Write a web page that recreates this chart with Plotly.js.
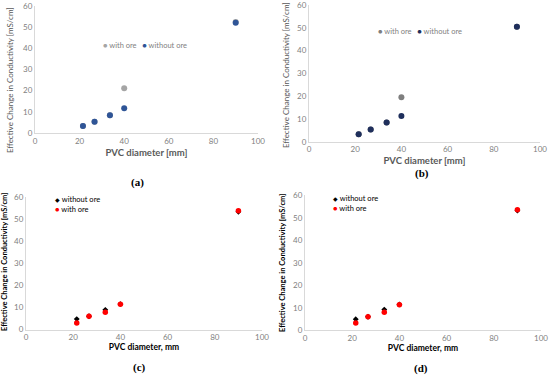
<!DOCTYPE html>
<html><head><meta charset="utf-8">
<script src="https://cdn.plot.ly/plotly-3.0.1.min.js"></script>
<style>html,body{margin:0;padding:0;background:#fff;overflow:hidden}#chart{width:550px;height:375px}</style>
</head><body><div id="chart"></div>
<script>
// PVC diameters (mm)
const diameters = [21.5, 26.7, 33.6, 40, 90];
// Panel (a)
const aWithOre    = [3.3, 5.3, 8.4, 21.1, 52.4];
const aWithoutOre = [3.3, 5.3, 8.4, 11.7, 52.1];
// Panel (b)
const bWithOre    = [3.3, 5.4, 8.4, 19.5, 50.4];
const bWithoutOre = [3.3, 5.4, 8.4, 11.3, 50.4];
// Panel (c)
const cWithoutOre = [4.7, 6.0, 8.9, 11.5, 53.3];
const cWithOre    = [3.0, 6.0, 7.8, 11.4, 53.8];
// Panel (d)
const dWithoutOre = [4.9, 6.0, 9.2, 11.5, 53.2];
const dWithOre    = [3.2, 6.0, 8.0, 11.4, 53.6];
const xTickVals = [0, 20, 40, 60, 80, 100];
const yTickVals = [0, 10, 20, 30, 40, 50, 60];

const W = 550, H = 375;
const px = v => v / W;
const py = v => 1 - v / H;

const FONT = 'Lato, "Open Sans", sans-serif';
function tr(x, y, xa, ya, color, symbol, size, name) {
  return {x: x, y: y, xaxis: xa, yaxis: ya, type: 'scatter', mode: 'markers', name: name,
    marker: {color: color, size: size, symbol: symbol}, showlegend: false, hoverinfo: 'x+y'};
}
const data = [
  tr(diameters, aWithOre, 'x', 'y', '#A5A5A5', 'circle', 6, 'with ore'),
  tr(diameters, aWithoutOre, 'x', 'y', '#2F5597', 'circle', 6, 'without ore'),
  tr(diameters, bWithOre, 'x2', 'y2', '#7F7F7F', 'circle', 6, 'with ore'),
  tr(diameters, bWithoutOre, 'x2', 'y2', '#1F2F5C', 'circle', 6, 'without ore'),
  tr(diameters, cWithoutOre, 'x3', 'y3', '#000000', 'diamond', 4.5, 'without ore'),
  tr(diameters, cWithOre, 'x3', 'y3', '#FF0000', 'circle', 5.5, 'with ore'),
  tr(diameters, dWithoutOre, 'x4', 'y4', '#000000', 'diamond', 4.5, 'without ore'),
  tr(diameters, dWithOre, 'x4', 'y4', '#FF0000', 'circle', 5.5, 'with ore')
];

function xaxis(dom, anchor, title, bold) {
  return {domain: dom, anchor: anchor, range: [0, 100], tickvals: xTickVals,
    showgrid: false, zeroline: false, showline: true, linecolor: '#D9D9D9', linewidth: 1,
    ticks: '', ticklabeloverflow: 'allow', tickfont: {family: FONT, size: 8, color: '#7F7F7F'},
    title: {text: title, standoff: bold ? 2 : 4,
      font: {family: FONT, size: bold ? 8.5 : 9.5, color: bold ? '#000' : '#595959', weight: 'bold'}}};
}
function yaxis(dom, anchor) {
  return {domain: dom, anchor: anchor, range: [0, 60], tickvals: yTickVals,
    showgrid: false, zeroline: false, showline: true, linecolor: '#D9D9D9', linewidth: 1,
    ticks: '', ticklabeloverflow: 'allow', tickfont: {family: FONT, size: 8, color: '#7F7F7F'}};
}

function ann(text, x, y, font, extra) {
  return Object.assign({text: text, x: px(x), y: py(y), xref: 'paper', yref: 'paper',
    xanchor: 'left', yanchor: 'middle', align: 'left', showarrow: false, font: font}, extra || {});
}
const legFontAB = {family: FONT, size: 7.5, color: '#7F7F7F'};
const legFontCD = {family: FONT, size: 7.5, color: '#000'};
const lblFont = {family: '"Liberation Serif", serif', size: 11, color: '#000', weight: 'bold'};
const yTitle = 'Effective Change in Conductivity [mS/cm]';
const yTitleFontAB = {family: FONT, size: 8, color: '#595959'};
const yTitleFontCD = {family: FONT, size: 7.5, color: '#000', weight: 'bold'};

const layout = {
  width: W, height: H, margin: {l: 0, r: 0, t: 0, b: 0, autoexpand: false},
  paper_bgcolor: '#fff', plot_bgcolor: '#fff', showlegend: false,
  xaxis:  xaxis([px(35), px(258)], 'y', 'PVC diameter [mm]', false),
  yaxis:  yaxis([py(133), py(6)], 'x'),
  xaxis2: xaxis([px(309), px(540)], 'y2', 'PVC diameter [mm]', false),
  yaxis2: yaxis([py(141.7), py(5)], 'x2'),
  xaxis3: xaxis([px(26), px(262)], 'y3', 'PVC diameter, mm', true),
  yaxis3: yaxis([py(329.5), py(197)], 'x3'),
  xaxis4: xaxis([px(305), px(541)], 'y4', 'PVC diameter, mm', true),
  yaxis4: yaxis([py(330.3), py(195.3)], 'x4'),
  annotations: [
    ann(yTitle, 10, 80, yTitleFontAB, {xanchor: 'center', textangle: -90}),
    ann(yTitle, 286, 75, yTitleFontAB, {xanchor: 'center', textangle: -90}),
    ann(yTitle, 4, 262, yTitleFontCD, {xanchor: 'center', textangle: -90}),
    ann(yTitle, 282, 263, yTitleFontCD, {xanchor: 'center', textangle: -90}),
    ann('<span style="color:#A5A5A5">●</span> with ore   <span style="color:#2F5597">●</span> without ore', 101, 45, legFontAB),
    ann('<span style="color:#7F7F7F">●</span> with ore   <span style="color:#1F2F5C">●</span> without ore', 376, 31.7, legFontAB),
    ann('<span style="color:#000;font-size:6px">◆</span> without ore<br><span style="color:#FF0000">●</span> with ore', 53, 204, legFontCD),
    ann('<span style="color:#000;font-size:6px">◆</span> without ore<br><span style="color:#FF0000">●</span> with ore', 331, 203, legFontCD),
    ann('(a)', 137, 182, lblFont, {xanchor: 'center'}),
    ann('(b)', 422, 173, lblFont, {xanchor: 'center'}),
    ann('(c)', 139, 367, lblFont, {xanchor: 'center'}),
    ann('(d)', 421, 368, lblFont, {xanchor: 'center'})
  ]
};
Plotly.newPlot('chart', data, layout, {staticPlot: true, displayModeBar: false});
</script></body></html>
